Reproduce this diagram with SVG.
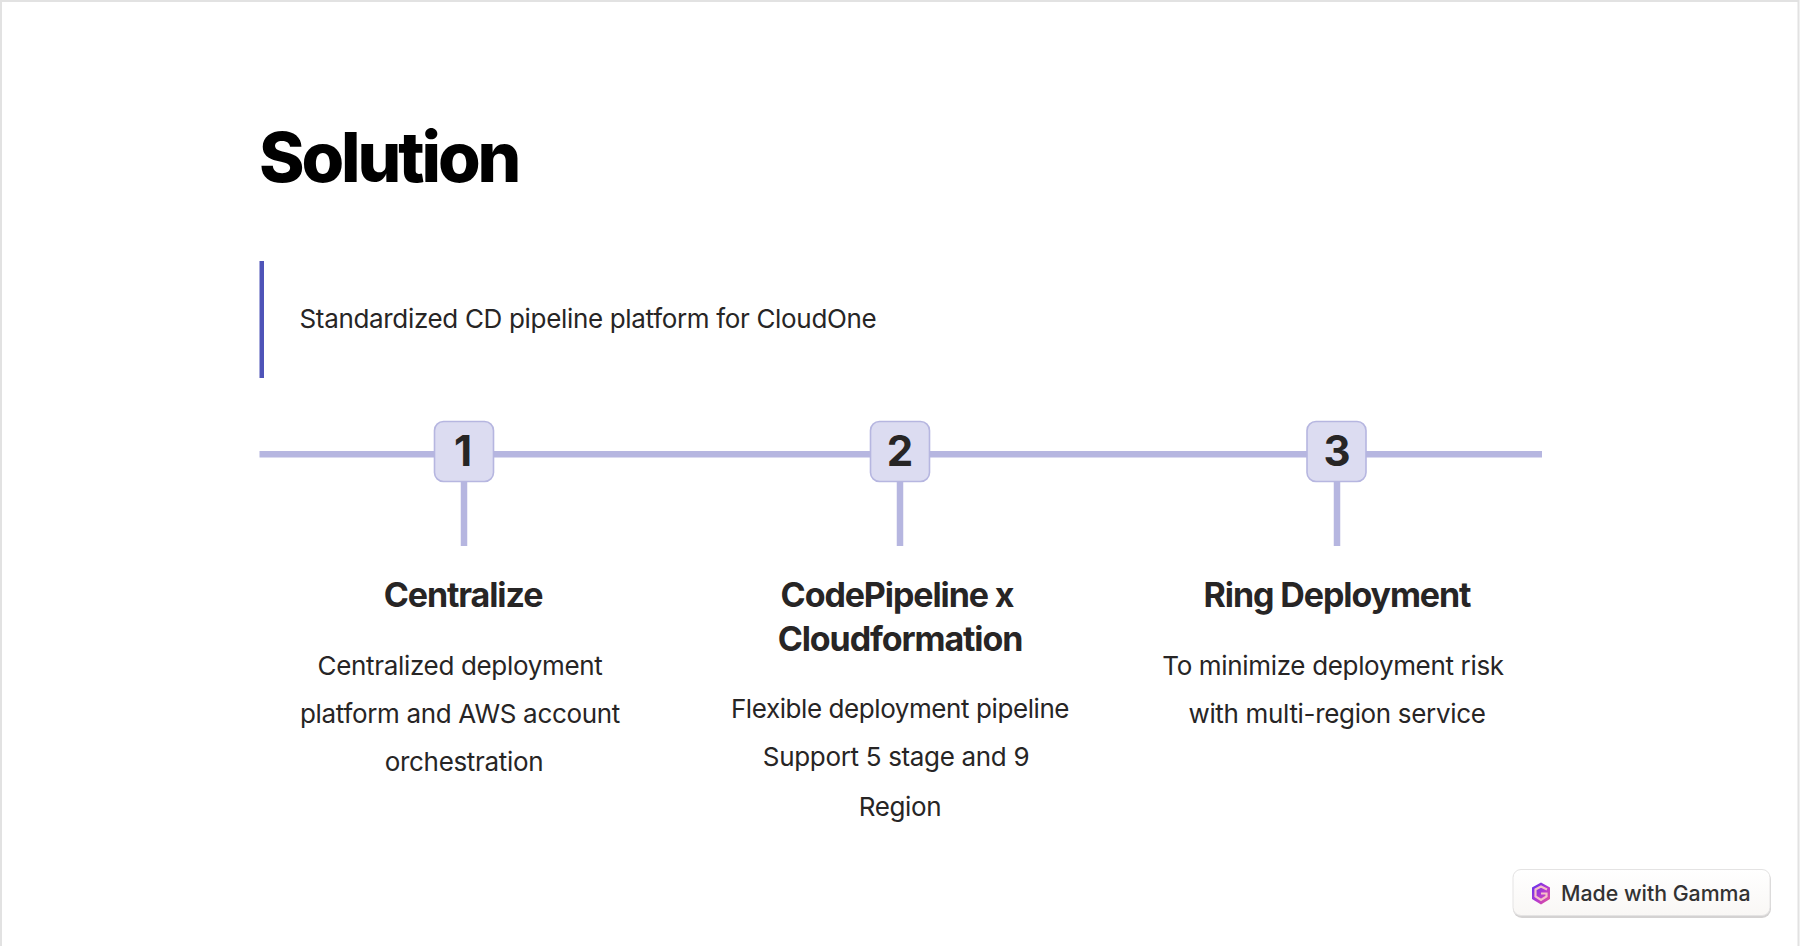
<svg xmlns="http://www.w3.org/2000/svg" width="1800" height="946" viewBox="0 0 1800 946">
<style>
text{font-family:Inter,"Liberation Sans",sans-serif;fill:#272525}
.t{font-size:69px;font-weight:800;fill:#000;letter-spacing:-3.1px}
.b{font-size:26px;font-weight:400;text-anchor:middle;letter-spacing:-.33px}
.h{font-size:34px;font-weight:700;text-anchor:middle;letter-spacing:-1.1px}
.n{font-size:42px;font-weight:700;text-anchor:middle}
.box{fill:#dcdcf1;stroke:#b6b6e0;stroke-width:1.6}
.ln{stroke:#b6b6e0;stroke-width:6.5;fill:none}
</style>
<defs>
<linearGradient id="g" x1="0" y1="0" x2="1" y2="1"><stop offset="0" stop-color="#5a2ff0"/><stop offset=".55" stop-color="#b63bd0"/><stop offset="1" stop-color="#e8568f"/></linearGradient>
<linearGradient id="bg" x1="0" y1="0" x2="0" y2="1"><stop offset="0" stop-color="#ffffff"/><stop offset="1" stop-color="#f9f7f5"/></linearGradient>
</defs>
<rect x="0" y="0" width="1800" height="946" fill="#fff"/>
<path d="M1 946V1H1798.500V946" fill="none" stroke="#e2e2e2" stroke-width="2"/>
<text class="t" x="259" y="182">Solution</text>
<rect x="259.500" y="261" width="4.500" height="117" fill="#4f54b8"/>
<text x="299.500" y="328" style="font-size:26px;letter-spacing:-.33px">Standardized CD pipeline platform for CloudOne</text>
<g id="connectors">
<path class="ln" d="M259.500 454.300H1542"/>
<path class="ln" d="M464 454V546M900 454V546M1337 454V546"/>
</g>
<g id="node1">
<rect class="box" x="434.500" y="421.500" width="59" height="60" rx="9"/>
<text class="n" x="463" y="466">1</text>
<text class="h" x="463" y="607">Centralize</text>
<text class="b" x="460" y="675">Centralized deployment</text>
<text class="b" x="460" y="723">platform and AWS account</text>
<text class="b" x="464" y="771">orchestration</text>
</g>
<g id="node2">
<rect class="box" x="870.500" y="421.500" width="59" height="60" rx="9"/>
<text class="n" x="900" y="466">2</text>
<text class="h" x="897" y="607">CodePipeline x</text>
<text class="h" x="900" y="651">Cloudformation</text>
<text class="b" x="900" y="718" style="letter-spacing:-.42px">Flexible deployment pipeline</text>
<text class="b" x="896" y="766">Support 5 stage and 9</text>
<text class="b" x="900" y="816">Region</text>
</g>
<g id="node3">
<rect class="box" x="1307" y="421.500" width="59" height="60" rx="9"/>
<text class="n" x="1337" y="466">3</text>
<text class="h" x="1337" y="607">Ring Deployment</text>
<text class="b" x="1333" y="675">To minimize deployment risk</text>
<text class="b" x="1337" y="723">with multi-region service</text>
</g>
<g id="badge">
<rect x="1513" y="871" width="258" height="47" rx="9" fill="#d4d2d2"/>
<rect x="1513" y="869.500" width="257" height="46" rx="8" fill="url(#bg)" stroke="#e4e3e3" stroke-width="1"/>
<path d="M1541 882.500L1550 887.500V899L1541 904.500L1532 899V887.500Z" fill="url(#g)"/>
<path d="M1547 889.500L1541 886.500L1535.500 889.500V896.500L1541 900L1546.500 896.500V893.500H1541" fill="none" stroke="#f6c0c8" stroke-width="2.200"/>
<text x="1561" y="901" style="font-size:21.300px;font-weight:500;fill:#333">Made with Gamma</text>
</g>
</svg>
